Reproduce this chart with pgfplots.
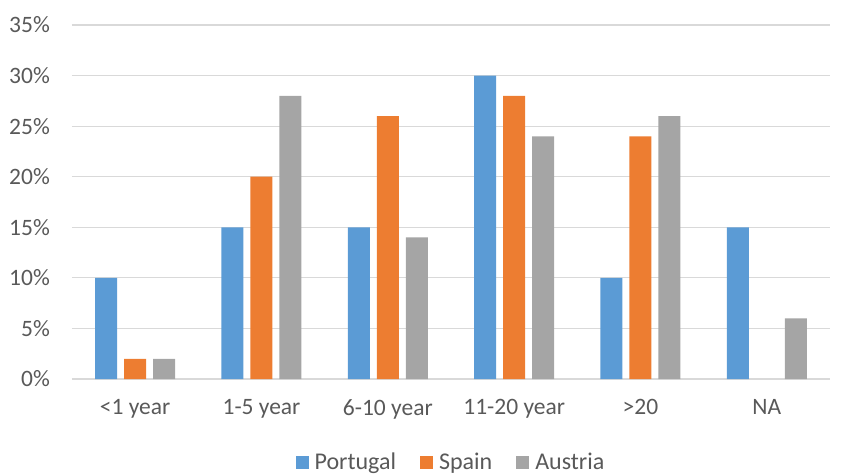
\documentclass[border=0pt]{standalone}
\usepackage{pgfplots}
\pgfplotsset{compat=1.18}
\usepackage{fontspec}
\setmainfont{Carlito}
\definecolor{cPor}{HTML}{5B9BD5}
\definecolor{cSpa}{HTML}{ED7D31}
\definecolor{cAus}{HTML}{A5A5A5}
\definecolor{cGrid}{HTML}{D9D9D9}
\definecolor{cText}{HTML}{595959}
\begin{document}
\fontsize{24}{28}\selectfont
\begin{tikzpicture}
\useasboundingbox (-72pt,-95pt) rectangle (769pt,379pt);
\begin{axis}[
  scale only axis,
  width=758pt, height=354pt,
  ybar=7pt, bar width=22pt,
  xmin=-0.5, xmax=5.5,
  ymin=0, ymax=35,
  xtick={0,1,2,3,4,5},
  xticklabels={{<1 year},{1-5 year},{6-10 year},{11-20 year},{>20},{NA}},
  ytick={0,5,10,15,20,25,30,35},
  yticklabels={0\%,5\%,10\%,15\%,20\%,25\%,30\%,35\%},
  ymajorgrids, grid style={cGrid, line width=1.2pt},
  axis line style={draw=none},
  major tick length=0pt,
  tick label style={font=\fontsize{23.5}{27}\selectfont, text=cText},
  yticklabel style={xshift=-14pt},
  xticklabel style={yshift=-12pt},
  legend style={at={(0.5,-0.237)}, anchor=center, draw=none, legend columns=-1,
    font=\fontsize{24}{28}\selectfont, text=cText, inner sep=0pt,
    /tikz/every odd column/.append style={column sep=4pt},
    /tikz/every even column/.append style={column sep=22pt}},
  legend image code/.code={\fill[#1] (0pt,-6.5pt) rectangle (13pt,6.5pt);},
]
\addplot[fill=cPor, draw=none] coordinates {(0,10) (1,15) (2,15) (3,30) (4,10) (5,15)};
\addplot[fill=cSpa, draw=none] coordinates {(0,2) (1,20) (2,26) (3,28) (4,24)};
\addplot[fill=cAus, draw=none] coordinates {(0,2) (1,28) (2,14) (3,24) (4,26) (5,6)};
\legend{Portugal,Spain,Austria}
\end{axis}
\end{tikzpicture}
\end{document}
